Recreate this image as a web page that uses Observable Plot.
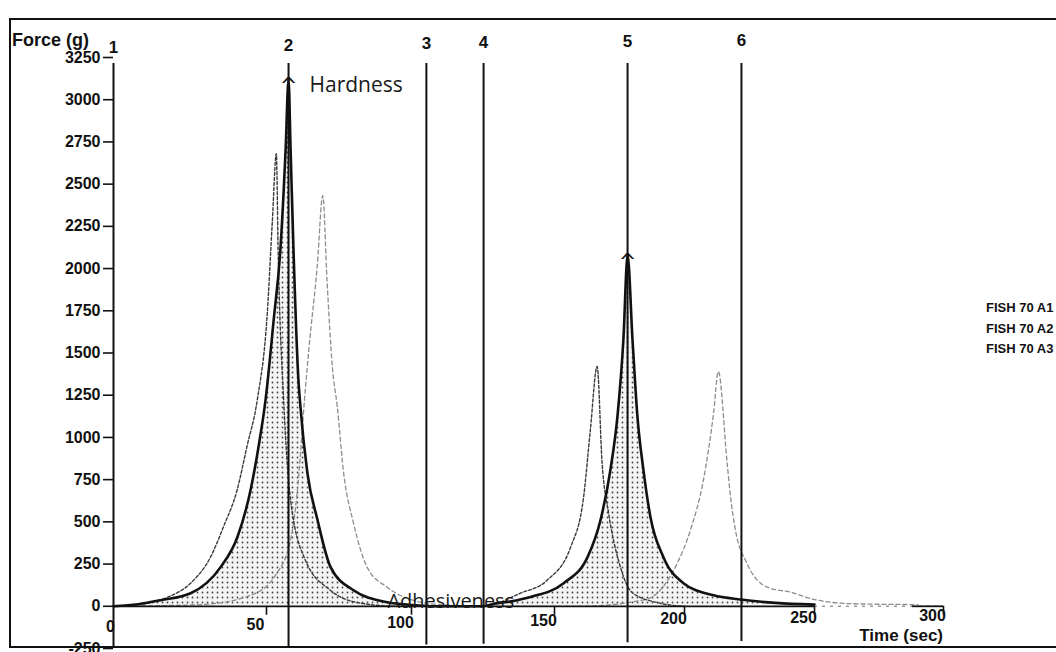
<!DOCTYPE html>
<html><head><meta charset="utf-8">
<script src="https://cdn.jsdelivr.net/npm/d3@7"></script>
<script src="https://cdn.jsdelivr.net/npm/@observablehq/plot@0.6"></script>
<style>
html,body{margin:0;padding:0;background:#fff;}
#wrap{position:relative;width:1056px;height:652px;overflow:hidden;}
.lbl{position:absolute;font-family:"Liberation Sans",Arial,sans-serif;font-weight:bold;color:#111;white-space:nowrap;line-height:1;}
#frame{position:absolute;left:9px;top:18px;width:1100px;height:626px;border-left:2px solid #111;border-top:2px solid #111;border-bottom:2px solid #111;pointer-events:none;}
</style></head><body>
<div id="wrap"><div id="frame"></div></div>
<script>
// ---- data ----
const seriesNames = ["FISH 70 A1", "FISH 70 A2", "FISH 70 A3"];

// solid curve (sample A1) : time (s) / force (g)
const a1Time  = [0, 8, 15.4, 25.2, 35, 40.5, 44.8, 47.4, 49.7, 52.5, 54.8, 56.6, 57.6, 58.3, 59.3, 61, 61.7, 64.1, 67.6, 72.1, 80, 91.7, 100, 110, 125, 128.7, 135, 141.6, 153.5, 162.7, 167.7, 171.5, 174.2, 176.5, 178.1, 180, 181.9, 184.2, 186.9, 191.9, 199.6, 211.2, 221.5, 235, 250];
const a1Force = [0, 12, 36, 77, 232, 410, 689, 945, 1224, 1700, 2115, 2709, 3120, 2709, 2115, 1343, 1182, 790, 511, 232, 95, 24, 8, 0, 0, 15, 30, 55, 137, 291, 511, 808, 1123, 1580, 2080, 1580, 1123, 808, 529, 291, 137, 65, 40, 20, 10];

// dark dashed curve (sample A2)
const a2Time  = [0, 10, 17.6, 25.2, 31.7, 35.9, 40.4, 43.6, 47, 50.2, 52, 53.4, 54, 55.9, 58.3, 63.4, 72, 82, 95, 125, 138, 147.4, 156.2, 161.2, 163.8, 166.4, 168.3, 170.8, 175, 180, 190, 200];
const a2Force = [0, 15, 53, 137, 291, 469, 689, 945, 1224, 1717, 2275, 2680, 2115, 1224, 630, 273, 95, 20, 0, 0, 77, 154, 350, 648, 1046, 1420, 850, 552, 250, 80, 20, 0];

// light dashed curve (sample A3)
const a3Time  = [0, 28.4, 44.8, 53.1, 58.3, 61, 63.1, 64.6, 67.5, 69.4, 70.9, 72.7, 74.4, 76.6, 80, 84.7, 91.6, 99.7, 110, 125, 160, 185, 192, 197.2, 202.3, 207.3, 211.2, 213, 216.4, 217.7, 219.6, 224, 231.8, 240.8, 250, 265, 290];
const a3Force = [0, 10, 65, 184, 392, 749, 1224, 1521, 2016, 2432, 1919, 1420, 1182, 790, 493, 232, 113, 40, 10, 0, 0, 40, 120, 255, 452, 749, 1147, 1390, 848, 650, 451, 255, 113, 83, 40, 15, 10];

// anchor lines 1..6
const markerLabels = ["1", "2", "3", "4", "5", "6"];
const markerTimes  = [0, 57.6, 105.2, 125.2, 178.1, 221.9];

// axes
const xTicks = [0, 50, 100, 150, 200, 250, 300];
const yTicks = [-250, 0, 250, 500, 750, 1000, 1250, 1500, 1750, 2000, 2250, 2500, 2750, 3000, 3250];

// annotations
const annLabels = ["Hardness", "Adhesiveness"];
const annTimes  = [57.6, 91.7];
const annForces = [3120, 0];
const hardnessTimes  = [57.6, 178.1];
const hardnessForces = [3120, 2080];

// ---- build tables ----
const rows = (T, F) => T.map((t, i) => ({t, f: F[i]}));
const s1 = rows(a1Time, a1Force), s2 = rows(a2Time, a2Force), s3 = rows(a3Time, a3Force);
const markers = markerTimes.map((t, i) => ({t, label: markerLabels[i]}));
const anns = annLabels.map((label, i) => ({label, t: annTimes[i], f: annForces[i]}));
const peaks = hardnessTimes.map((t, i) => ({t, f: hardnessForces[i]}));

// the scanned time axis is unevenly spaced: warp time so the linear scale lands on the printed ticks
const printedTickPx = [113, 266, 411, 554, 684, 814, 943];
const warp = d3.scaleLinear().domain(xTicks).range(printedTickPx.map(p => (p - 113) / (943 - 113) * 300));
const pxOf = d3.scaleLinear().domain(xTicks).range(printedTickPx);
// the scanned page is slightly tilted: things to the right sit a little higher
const tilt = t => 0.014 * (pxOf(t) - 113);

const bold = {fontFamily: "Liberation Sans, Arial, sans-serif", fontWeight: "bold", fill: "#111"};

const chart = Plot.plot({
  width: 1056, height: 652,
  marginTop: 57, marginBottom: 4, marginLeft: 113, marginRight: 113,
  x: {domain: [0, 300], transform: warp, axis: null},
  y: {domain: [-250, 3250], axis: null},
  marks: [
    Plot.areaY(s1, {x: "t", y: "f", fill: "url(#stipple)", curve: "monotone-x"}),
    Plot.line(s3, {x: "t", y: "f", stroke: "#8c8c8c", strokeWidth: 1.3, strokeDasharray: "4,3", curve: "monotone-x"}),
    Plot.line(s2, {x: "t", y: "f", stroke: "#3a3a3a", strokeWidth: 1.4, strokeDasharray: "3,2", curve: "monotone-x"}),
    Plot.line(s1, {x: "t", y: "f", stroke: "#111", strokeWidth: 2.6, curve: "monotone-x"}),
    // x axis line at zero
    Plot.ruleY([0], {x1: 0, x2: 250, stroke: "#111", strokeWidth: 1.8}),
    Plot.ruleY([0], {x1: 250, x2: 300, stroke: "#999", strokeWidth: 1.4, strokeDasharray: "3,5"}),
    Plot.ruleY([0], {x1: 288, x2: 300, stroke: "#111", strokeWidth: 1.8}),
    Plot.ruleX(xTicks.slice(1), {x: d => d, y1: 0, y2: 0, insetBottom: -9, stroke: "#111", strokeWidth: 1.6}),
    ...xTicks.map(t => Plot.text([t], {x: d => d, y: 0, text: d => String(d), dx: t === 0 ? -3 : -11, dy: 21 - tilt(t), fontSize: 16, ...bold})),
    // y axis
    Plot.axisY({ticks: yTicks, tickFormat: d => String(d), tickSize: 10, tickPadding: 3, fontSize: 16, fontWeight: "bold", fontFamily: "Liberation Sans, Arial, sans-serif", color: "#111", strokeWidth: 1.6, label: null}),
    // anchor lines and their numbers
    ...markers.map(m => Plot.ruleX([m], {x: "t", y1: -250, y2: 3250, insetBottom: -6, insetTop: m.t === 0 ? 0 : -tilt(m.t) * 0.8, stroke: "#111", strokeWidth: 2})),
    ...markers.map(m => Plot.text([m], {x: "t", text: "label", frameAnchor: "top", dy: -17 - tilt(m.t) * 0.8, fontSize: 17, ...bold})),
    // annotations
    Plot.text(peaks, {x: "t", y: "f", text: () => "^", dy: 7, fontSize: 21, fontFamily: "DejaVu Sans", fill: "#111"}),
    Plot.text(anns.slice(0, 1), {x: "t", y: "f", text: "label", textAnchor: "start", dx: 21, dy: 6, fontSize: 21, fontFamily: "Open Sans", fill: "#1a1a1a"}),
    Plot.text(anns.slice(1), {x: "t", y: "f", text: "label", textAnchor: "start", dy: -5, fontSize: 20, fontFamily: "Open Sans", fill: "#1a1a1a"})
  ]
});

const svgNS = "http://www.w3.org/2000/svg";
const defs = document.createElementNS(svgNS, "defs");
defs.innerHTML = '<pattern id="stipple" width="5" height="5" patternUnits="userSpaceOnUse"><rect width="5" height="5" fill="#f4f4f4"/><circle cx="2.5" cy="2.5" r="0.9" fill="#444"/></pattern>';
chart.prepend(defs);
chart.style.position = "absolute";
chart.style.left = "0"; chart.style.top = "0";
chart.style.background = "transparent";

const wrap = document.getElementById("wrap");
wrap.prepend(chart);

function addLabel(text, css) {
  const d = document.createElement("div");
  d.className = "lbl"; d.textContent = text;
  Object.assign(d.style, css);
  wrap.appendChild(d);
}
addLabel("Force (g)", {left: "12px", top: "31px", fontSize: "18px"});
addLabel("Time (sec)", {right: "113px", top: "627px", fontSize: "17px"});
seriesNames.forEach((name, i) => addLabel(name, {left: "986px", top: (301 + i * 20.5) + "px", fontSize: "13px"}));
</script>
</body></html>
